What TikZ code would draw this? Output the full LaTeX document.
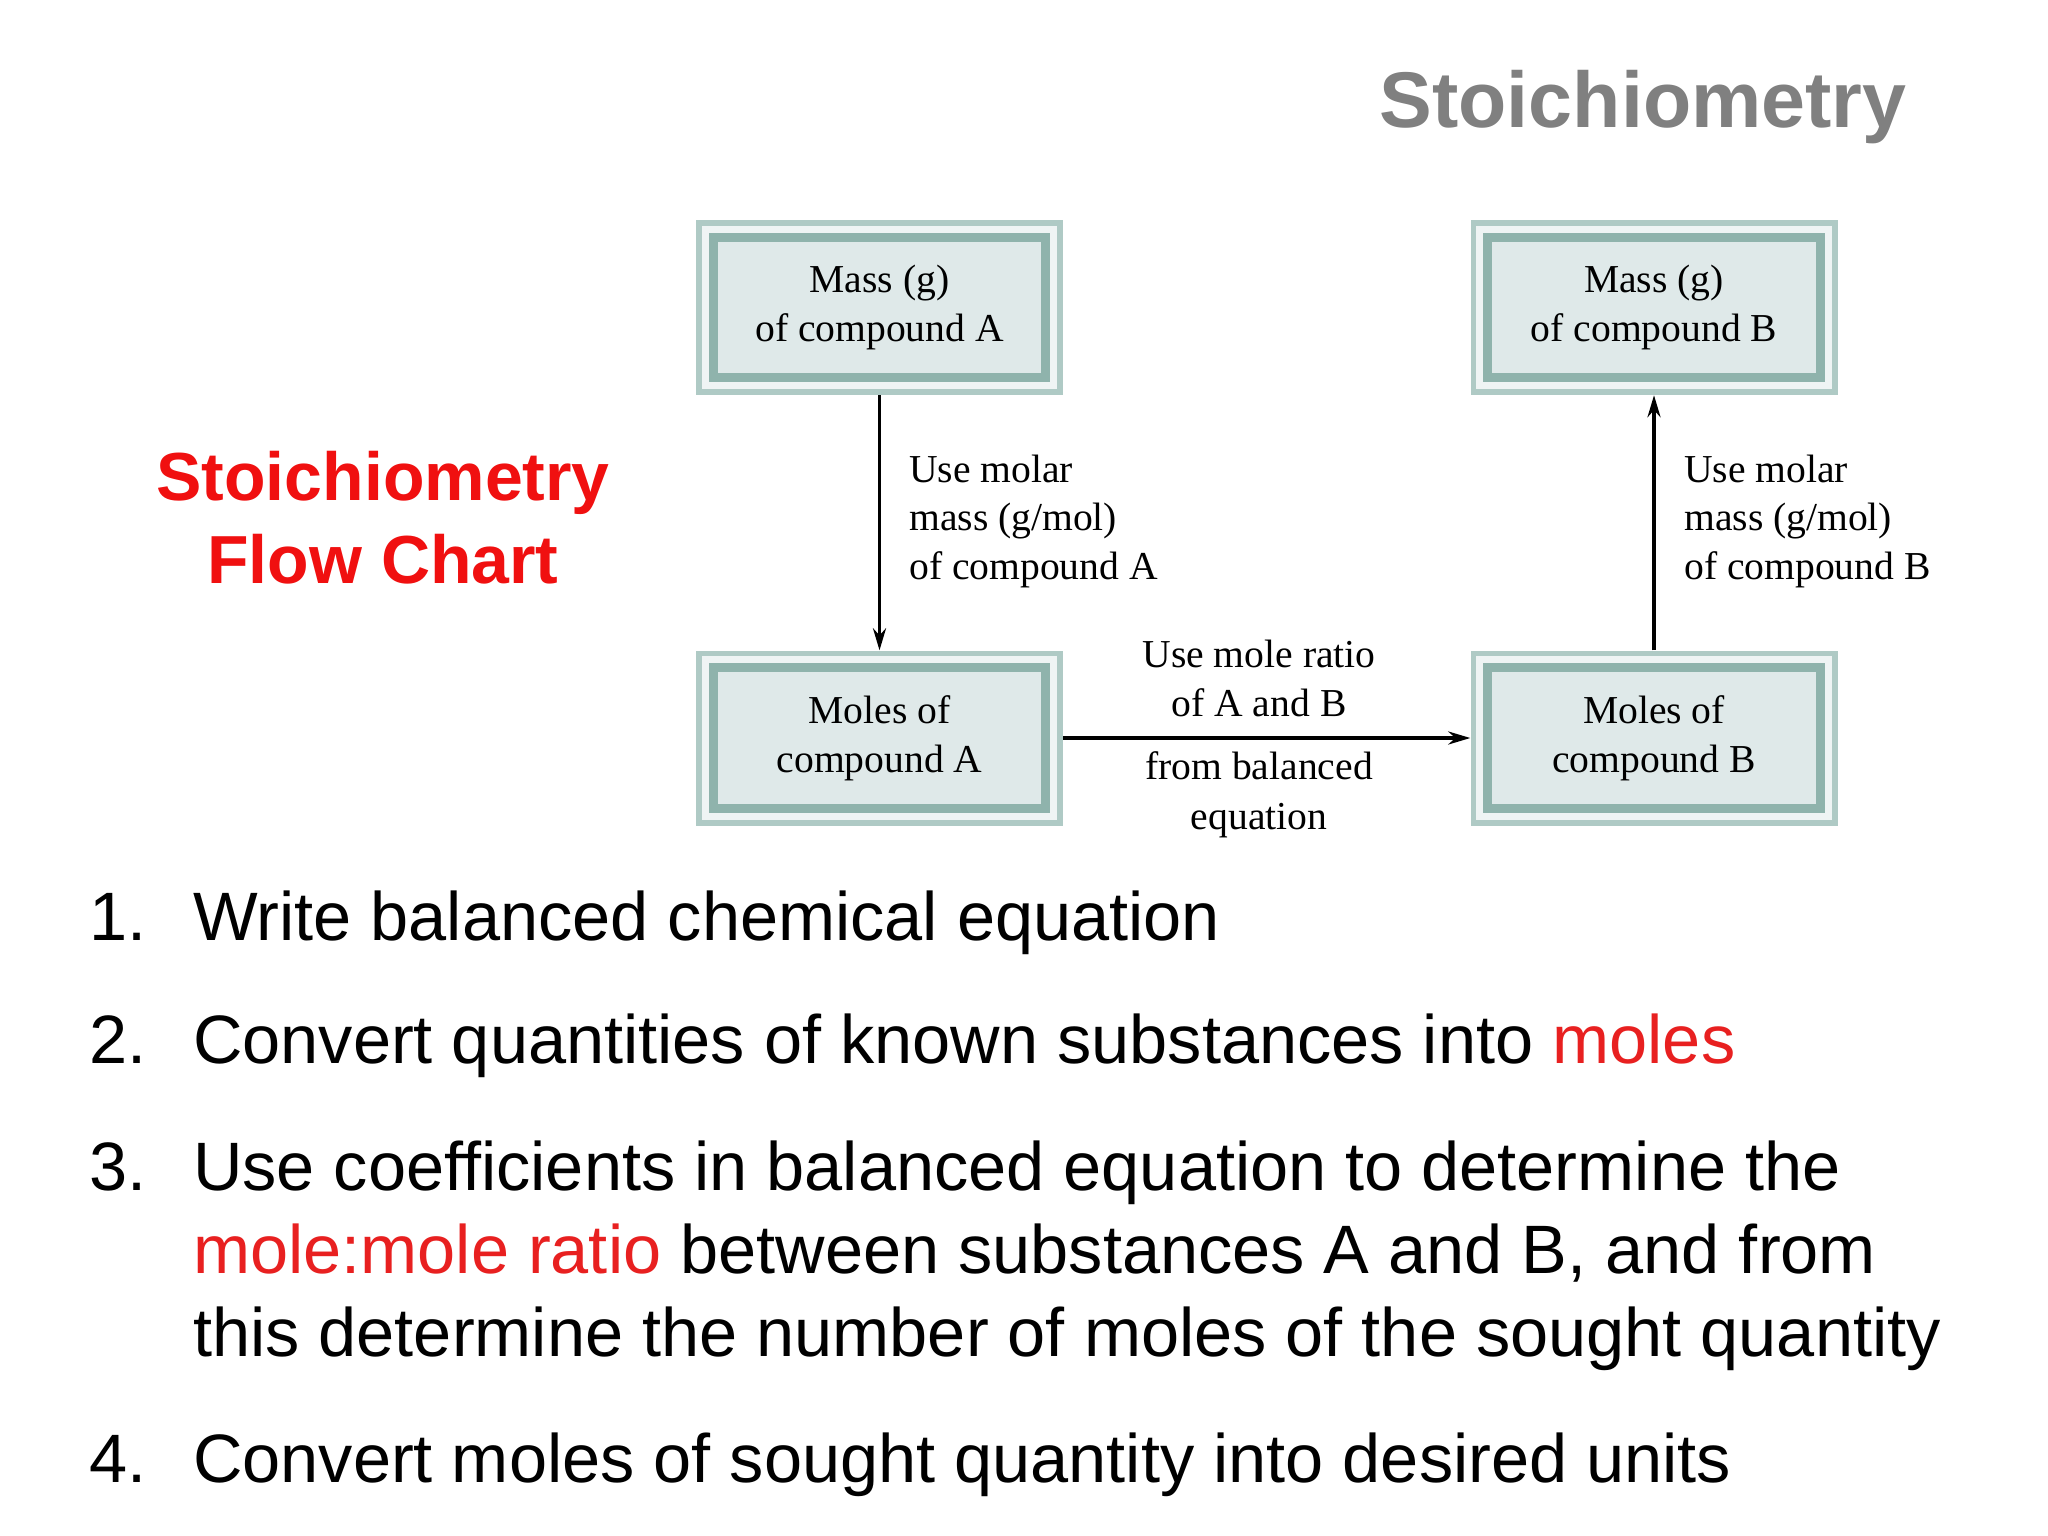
\documentclass[tikz,border=0pt]{standalone}
\usepackage{fontspec}
\usetikzlibrary{arrows.meta}
\setmainfont{Liberation Serif}
\newfontfamily\arialf{Liberation Sans}
\definecolor{tealA}{HTML}{AFCAC5}
\definecolor{tealB}{HTML}{8FB3AC}
\definecolor{tealIn}{HTML}{DFE9E9}
\definecolor{redT}{HTML}{F01010}
\definecolor{redL}{HTML}{E82020}
\definecolor{grayT}{HTML}{808080}
\newcommand\stbox[4]{%
 \node[minimum width=367pt,minimum height=175pt,fill=tealA,inner sep=0pt] (#1) at (#2,#3) {};
 \fill[white!80!tealA] ([xshift=6pt,yshift=-6pt]#1.north west) rectangle ([xshift=-6pt,yshift=6pt]#1.south east);
 \fill[tealB] ([xshift=13pt,yshift=-13pt]#1.north west) rectangle ([xshift=-13pt,yshift=13pt]#1.south east);
 \fill[tealIn] ([xshift=22pt,yshift=-22pt]#1.north west) rectangle ([xshift=-22pt,yshift=22pt]#1.south east);
 \node[boxtxt] (#1t) at (#1.center) {#4};
}
\begin{document}
\begin{tikzpicture}[x=1pt,y=-1pt,
 boxtxt/.style={font=\fontsize{39.6}{49}\selectfont,align=center,inner sep=0pt},
 lab/.style={font=\fontsize{39.6}{49}\selectfont,anchor=base west,inner sep=0pt},
 labc/.style={font=\fontsize{39.6}{49}\selectfont,anchor=base,inner sep=0pt},
 lst/.style={font=\arialf\fontsize{68.5}{80}\selectfont,anchor=base west,inner sep=0pt},
 arr/.style={-{Stealth[length=22pt,width=13pt]},line width=3.5pt}]
\useasboundingbox[fill=white] (0,0) rectangle (2048,1536);
\node[font=\arialf\bfseries\fontsize{79}{90}\selectfont,text=grayT,anchor=base,inner sep=0pt] (title) at (1643,128) {Stoichiometry};
\node[font=\arialf\bfseries\fontsize{68}{80}\selectfont,text=redT,anchor=base,inner sep=0pt] (rt1) at (383,500) {Stoichiometry};
\node[font=\arialf\bfseries\fontsize{68}{80}\selectfont,text=redT,anchor=base,inner sep=0pt] (rt2) at (383,583) {Flow Chart};
\stbox{ma}{879.5}{307.5}{Mass (g)\\of compound A}
\stbox{mb}{1654}{307.5}{Mass (g)\\of compound B}
\stbox{na}{879.5}{738}{Moles of\\compound A}
\stbox{nb}{1654}{738}{Moles of\\compound B}
\draw[arr] (ma.south) -- (na.north);
\draw[arr] (nb.north) -- (mb.south);
\draw[arr] (na.east) -- (nb.west);
\node[lab] (l1) at (909,482) {Use molar};
\node[lab] (l2) at (909,530) {mass (g/mol)};
\node[lab] (l3) at (909,579) {of compound A};
\node[lab] (r1) at (1684,482) {Use molar};
\node[lab] (r2) at (1684,530) {mass (g/mol)};
\node[lab] (r3) at (1684,579) {of compound B};
\node[labc] (m1) at (1259,667) {Use mole ratio};
\node[labc] (m2) at (1259,716) {of A and B};
\node[labc] (m3) at (1259,779) {from balanced};
\node[labc] (m4) at (1259,829) {equation};
\node[lst] (n1) at (89,940) {1.};
\node[lst] (t1) at (193,940) {Write balanced chemical equation};
\node[lst] (n2) at (89,1063) {2.};
\node[lst] (t2) at (193,1063) {Convert quantities of known substances into \textcolor{redL}{moles}};
\node[lst] (n3) at (89,1190) {3.};
\node[lst] (t3a) at (193,1190) {Use coefficients in balanced equation to determine the};
\node[lst] (t3b) at (193,1273) {\textcolor{redL}{mole:mole ratio} between substances A and B, and from};
\node[lst] (t3c) at (193,1356) {this determine the number of moles of the sought quantity};
\node[lst] (n4) at (89,1482) {4.};
\node[lst] (t4) at (193,1482) {Convert moles of sought quantity into desired units};
\end{tikzpicture}
\end{document}
